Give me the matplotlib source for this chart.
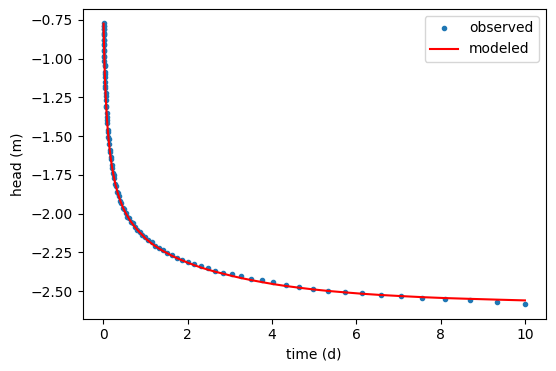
import matplotlib
matplotlib.use("Agg")
import matplotlib.pyplot as plt

time_d = [
    0.01, 0.010723, 0.011498, 0.012328, 0.013219, 0.014175, 0.015199, 0.016298, 0.017475, 0.018738,
    0.020092, 0.021544, 0.023101, 0.024771, 0.026561, 0.028480, 0.030539, 0.032745, 0.035112, 0.037649,
    0.040370, 0.043288, 0.046416, 0.049770, 0.053367, 0.057224, 0.061359, 0.065793, 0.070548, 0.075646,
    0.081113, 0.086975, 0.093260, 0.1,
    0.10723, 0.11498, 0.12328, 0.13219, 0.14175, 0.15199, 0.16298, 0.17475, 0.18738, 0.20092,
    0.21544, 0.23101, 0.24771, 0.26561, 0.28480, 0.30539, 0.32745, 0.35112, 0.37649, 0.40370,
    0.43288, 0.46416, 0.49770, 0.53367, 0.57224, 0.61359, 0.65793, 0.70548, 0.75646, 0.81113,
    0.86975, 0.93260, 1.0,
    1.0723, 1.1498, 1.2328, 1.3219, 1.4175, 1.5199, 1.6298, 1.7475, 1.8738, 2.0092,
    2.1544, 2.3101, 2.4771, 2.6561, 2.8480, 3.0539, 3.2745, 3.5112, 3.7649, 4.0370,
    4.3288, 4.6416, 4.9770, 5.3367, 5.7224, 6.1359, 6.5793, 7.0548, 7.5646, 8.1113,
    8.6975, 9.3260, 10.0,
]

head_observed = [
    -0.770, -0.790, -0.786, -0.808, -0.806, -0.837, -0.840, -0.849, -0.880, -0.881,
    -0.904, -0.910, -0.943, -0.951, -0.984, -0.987, -1.013, -1.040, -1.048, -1.088,
    -1.097, -1.117, -1.150, -1.179, -1.186, -1.224, -1.243, -1.264, -1.303, -1.312,
    -1.348, -1.378, -1.393, -1.416, -1.459, -1.473, -1.506, -1.521, -1.553, -1.587,
    -1.599, -1.632, -1.647, -1.686, -1.702, -1.737, -1.751, -1.770, -1.808, -1.823,
    -1.857, -1.866, -1.886, -1.917, -1.931, -1.962, -1.968, -1.994, -2.019, -2.027,
    -2.053, -2.062, -2.083, -2.108, -2.115, -2.136, -2.153, -2.171, -2.185, -2.205,
    -2.218, -2.235, -2.251, -2.265, -2.283, -2.296, -2.312, -2.325, -2.337, -2.353,
    -2.367, -2.380, -2.390, -2.404, -2.419, -2.430, -2.443, -2.461, -2.474, -2.486,
    -2.499, -2.506, -2.514, -2.526, -2.533, -2.546, -2.553, -2.559, -2.572, -2.585,
]

head_modeled = [
    -0.774, -0.784, -0.794, -0.805, -0.816, -0.829, -0.842, -0.856, -0.870, -0.886,
    -0.902, -0.919, -0.936, -0.954, -0.973, -0.993, -1.014, -1.035, -1.056, -1.079,
    -1.101, -1.124, -1.147, -1.171, -1.196, -1.220, -1.245, -1.270, -1.296, -1.321,
    -1.347, -1.372, -1.398, -1.424, -1.450, -1.476, -1.502, -1.528, -1.554, -1.579,
    -1.605, -1.630, -1.656, -1.681, -1.706, -1.730, -1.754, -1.778, -1.802, -1.825,
    -1.848, -1.871, -1.893, -1.914, -1.935, -1.956, -1.976, -1.995, -2.014, -2.033,
    -2.051, -2.069, -2.086, -2.104, -2.121, -2.138, -2.158, -2.175, -2.192, -2.208,
    -2.224, -2.240, -2.255, -2.271, -2.286, -2.301, -2.316, -2.331, -2.346, -2.360,
    -2.374, -2.387, -2.401, -2.415, -2.428, -2.441, -2.454, -2.466, -2.477, -2.488,
    -2.498, -2.507, -2.516, -2.524, -2.531, -2.538, -2.544, -2.549, -2.554, -2.559,
]

fig = plt.figure(figsize=(5.56, 3.71), dpi=100)
W, H = 556, 371
left, right, top, bottom = 82.5, 546, 9, 318.5
ax = fig.add_axes([left / W, (H - bottom) / H, (right - left) / W, (bottom - top) / H])

ax.plot(time_d, head_observed, '.', label='observed')
ax.plot(time_d, head_modeled, 'r', label='modeled')
ax.set_xlabel('time (d)')
ax.set_ylabel('head (m)')
ax.legend(loc='upper right')

fig.savefig('out.png', dpi=100)
